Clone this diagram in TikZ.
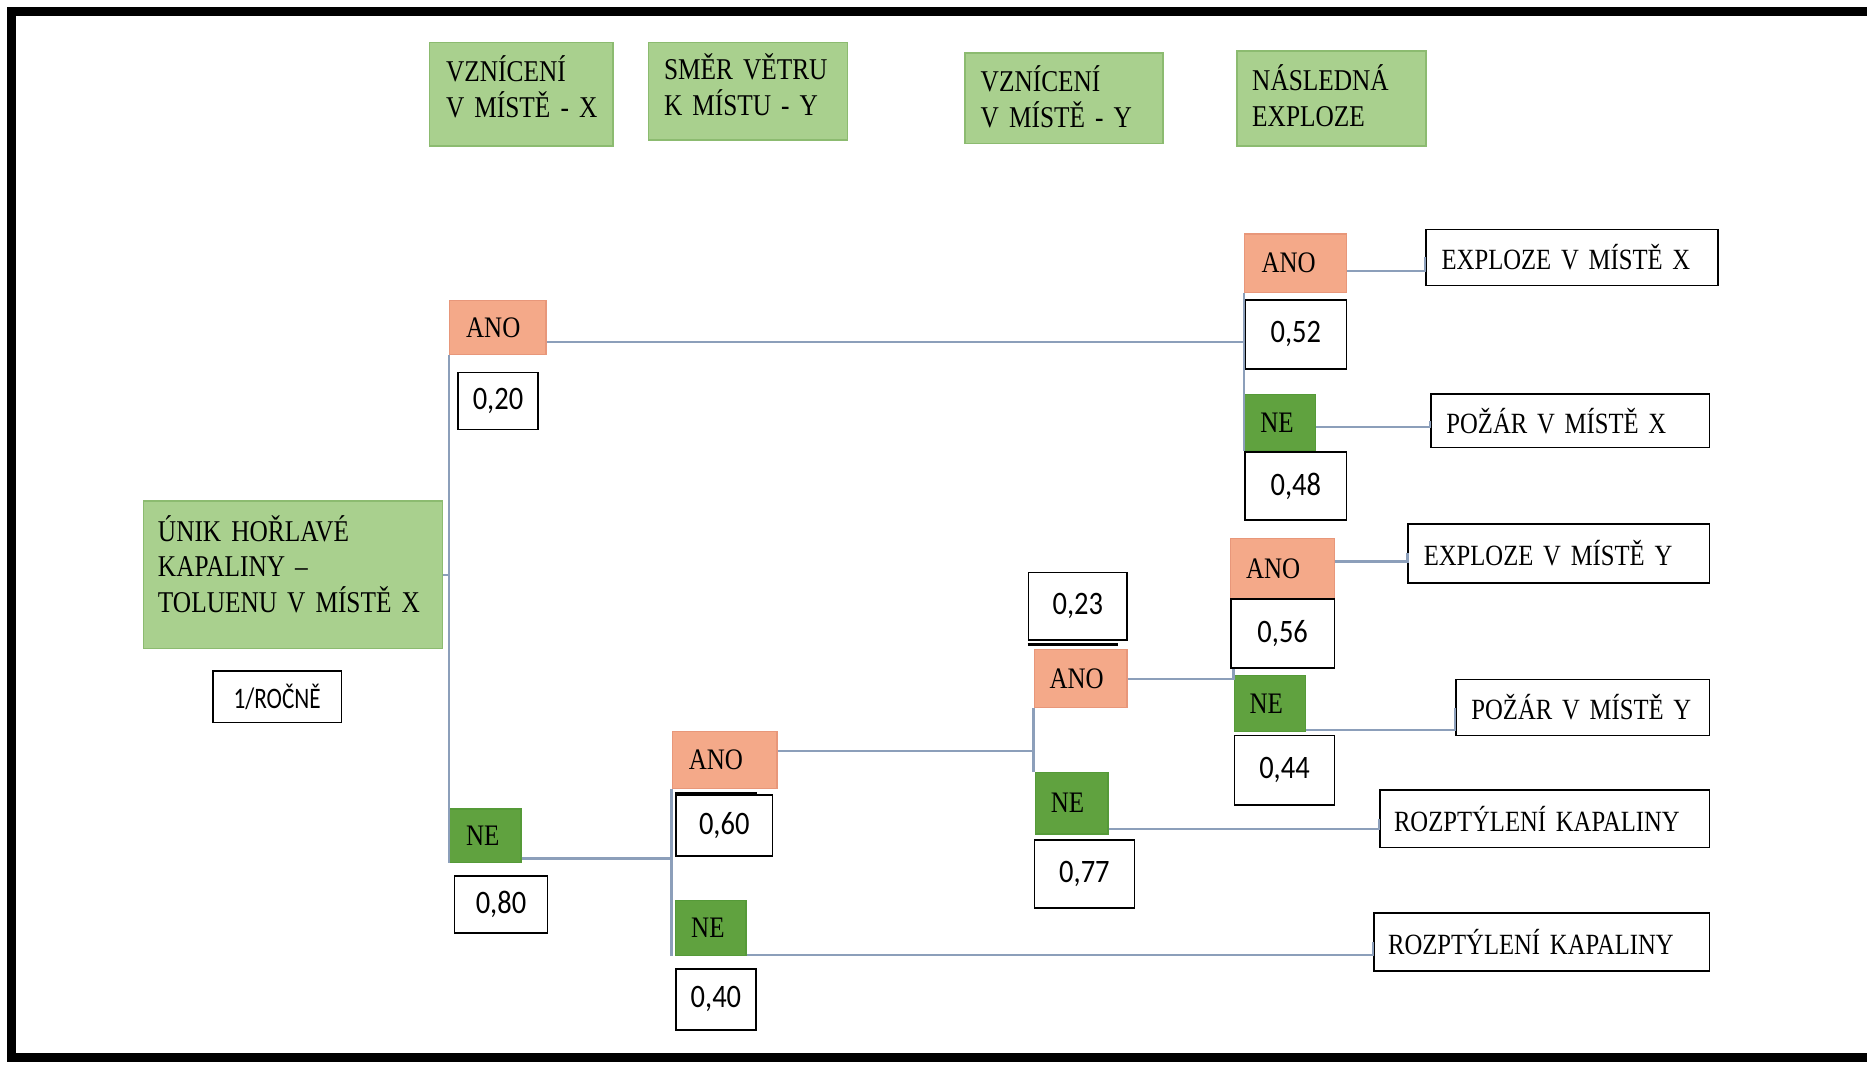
\documentclass[tikz,border=0pt]{standalone}
\usepackage{fontspec}
\setmainfont[FakeStretch=0.84, WordSpace=0.6]{Liberation Serif}
\newfontfamily\numfont[FakeStretch=0.87]{Carlito}
\newfontfamily\freqfont[FakeStretch=0.78]{Carlito}
\usepackage{xcolor}
\definecolor{HDRgreen}{HTML}{A9D08E}
\definecolor{HDRedge}{HTML}{8CBB70}
\definecolor{ANOfill}{HTML}{F4A989}
\definecolor{ANOedge}{HTML}{E8977A}
\definecolor{NEfill}{HTML}{60A23F}
\definecolor{NEedge}{HTML}{559A38}
\definecolor{LINKblue}{HTML}{8C9FBA}
\usetikzlibrary{positioning}

\begin{document}
\begin{tikzpicture}[
  x=0.6pt, y=-0.6pt,
  bx/.style n args={3}{anchor=north west, inner xsep=1pt, inner ysep=0pt,
    text width=#1*0.6pt-2pt, minimum height=#2*0.6pt, align=left,
    execute at begin node={\pgfmathsetlength\leftskip{#3*0.6pt-1pt}}},
  lift/.style={execute at end node={\rule[-#1]{0pt}{#1}}},
  head/.style={fill=HDRgreen, draw=HDRedge, line width=0.8pt,
    font=\fontsize{15.2}{18}\selectfont},
  ano/.style={fill=ANOfill, draw=ANOedge, line width=0.6pt,
    font=\fontsize{15}{16}\selectfont},
  ne/.style={fill=NEfill, draw=NEedge, line width=0.6pt,
    font=\fontsize{15}{16}\selectfont},
  outc/.style={draw=black, line width=0.9pt,
    font=\fontsize{14.8}{16}\selectfont},
  prob/.style 2 args={anchor=north west, draw=black, line width=0.9pt,
    inner sep=0pt, minimum width=#1*0.6pt, minimum height=#2*0.6pt,
    font=\numfont\fontsize{16.5}{18}\selectfont},
  link/.style={draw=LINKblue, line width=1.1pt}
]
\fill[white] (0,0) rectangle (1568,895);
\useasboundingbox (0,0) rectangle (1568,895);
\draw[line width=4.5pt] (1568,9.3) -- (9.5,9.3) -- (9.5,888.5) -- (1568,888.5);

% column heads
\node[head, bx={154}{87}{14}, lift=8pt] (hignX) at (360,35) {VZNÍCENÍ\\V MÍSTĚ - X};
\node[head, bx={167}{82}{13}, lift=7pt] (hwind) at (544,35) {SMĚR VĚTRU\\K MÍSTU - Y};
\node[head, bx={166}{76}{13}, lift=2pt] (hignY) at (810,44) {VZNÍCENÍ\\V MÍSTĚ - Y};
\node[head, bx={159}{80}{13}, lift=3pt] (hexpl) at (1038,42) {NÁSLEDNÁ\\EXPLOZE};

% initiating event
\node[head, bx={251}{124}{12}, lift=11pt] (leak) at (120,420)
  {ÚNIK HOŘLAVÉ\\KAPALINY –\\TOLUENU V MÍSTĚ X};
\node[prob={108}{43}, font=\freqfont\fontsize{15}{16}\selectfont] (freq)
  at (178,563) {1/ROČNĚ};

% branches
\node[ano, bx={81}{45}{14}] (yesX) at (377,252) {ANO};
\node[prob={67}{48}] (pyesX) at (384,312) {0,20};
\node[ne, bx={60}{45}{14}] (noX) at (377,679) {NE};
\node[prob={78}{48}] (pnoX) at (381,735) {0,80};

\node[ano, bx={88}{48}{14}] (yesW) at (564,614) {ANO};
\node[prob={81}{51}] (pyesW) at (567,667) {0,60};
\node[ne, bx={59}{46}{13}] (noW) at (567,756) {NE};
\node[prob={67}{51}] (pnoW) at (567,813) {0,40};

\node[prob={83}{57}] (pyesY) at (863,480) {0,23};
\node[ano, bx={78}{49}{13}] (yesY) at (868,545) {ANO};
\node[ne, bx={61}{52}{13}] (noY) at (869,648) {NE};
\node[prob={84}{57}] (pnoY) at (868,705) {0,77};

\node[ano, bx={85}{49}{14}] (explX) at (1045,196) {ANO};
\node[prob={85}{58}] (pexplX) at (1045,251) {0,52};
\node[ne, bx={59}{47}{13}] (fireX) at (1045,331) {NE};
\node[prob={85}{57}] (pfireX) at (1045,379) {0,48};

\node[ano, bx={87}{50}{13}] (explY) at (1033,452) {ANO};
\node[prob={87}{58}] (pexplY) at (1033,502) {0,56};
\node[ne, bx={60}{47}{13}] (fireY) at (1036,567) {NE};
\node[prob={84}{58}] (pfireY) at (1036,617) {0,44};

% outcomes
\node[outc, bx={245}{47}{13}] (oexplX) at (1197,192) {EXPLOZE V MÍSTĚ X};
\node[outc, bx={234}{45}{13}] (ofireX) at (1201,330) {POŽÁR V MÍSTĚ X};
\node[outc, bx={253}{50}{13}] (oexplY) at (1182,439) {EXPLOZE V MÍSTĚ Y};
\node[outc, bx={213}{47}{13}] (ofireY) at (1222,570) {POŽÁR V MÍSTĚ Y};
\node[outc, bx={277}{48}{12}] (odispY) at (1158,663) {ROZPTÝLENÍ KAPALINY};
\node[outc, bx={282}{49}{12}] (odispW) at (1153,766) {ROZPTÝLENÍ KAPALINY};

\draw[line width=1.8pt] (pyesW.north west) -- ++(69,0);
\draw[line width=1.2pt] ([yshift=-1.6pt]pyesY.south west) -- ++(76,0);

% connectors
\draw[link] (leak.east) -- (leak.east -| yesX.west);
\draw[link] (yesX.south west) -- (noX.south west);
\draw[link] ([yshift=-7.5pt]yesX.east) -| (pexplX.west);
\draw[link] (explX.south west) -- (fireX.south west);
\draw[link] ([yshift=-3.9pt]explX.east) -| (oexplX.west);
\draw[link] ([yshift=-2pt]fireX.east) -| (ofireX.west);

\draw[link] ([yshift=2.4pt]noX.south east) -| (yesW.south west);
\draw[link] (yesW.south west) -- (yesW.south west |- noW.south);
\draw[link] ([yshift=4.8pt]yesW.east) -| (yesY.south west);
\draw[link] (yesY.south west) -- (yesY.south west |- noY.north);
\draw[link] ([yshift=3pt]noY.south east) -| (odispY.west);
\draw[link] ([yshift=0.6pt]noW.south east) -| (odispW.west);

\draw[link] (yesY.east) -| (fireY.north west);
\draw[link] (fireY.north west) -- (fireY.north west |- pexplY.south);
\draw[link] ([yshift=3.6pt]explY.east) -| (oexplY.west);
\draw[link] ([yshift=1.2pt]fireY.south east) -| (ofireY.west);
\end{tikzpicture}
\end{document}
